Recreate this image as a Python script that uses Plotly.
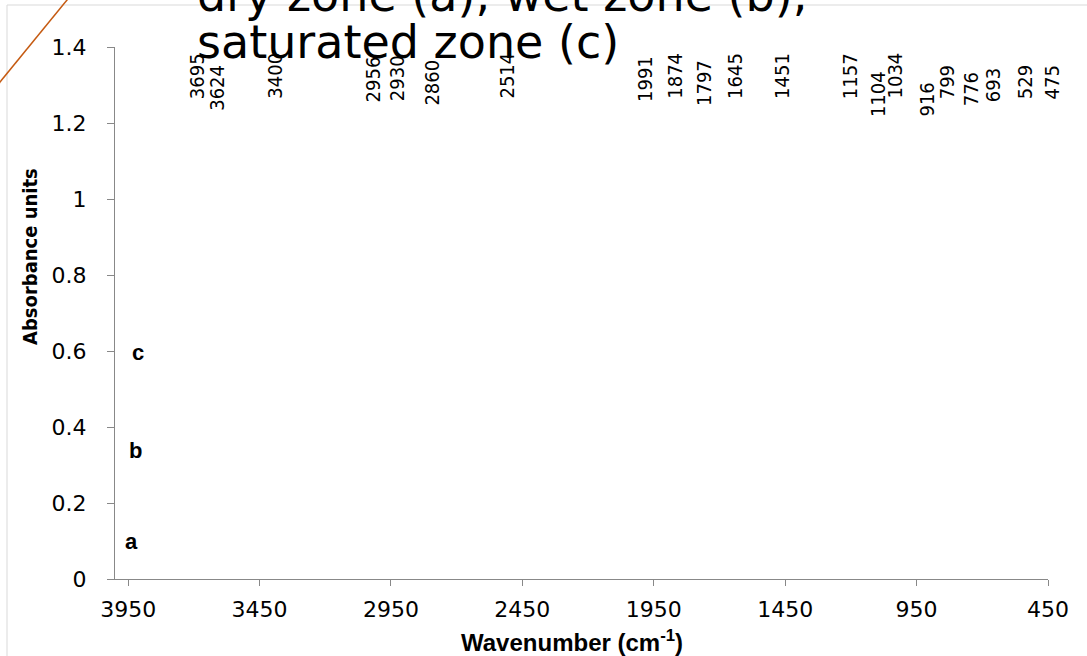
import plotly.graph_objects as go

# ---- data ----
peak_labels = [3695, 3624, 3400, 2956, 2930, 2860, 2514, 1991, 1874, 1797,
               1645, 1451, 1157, 1104, 1034, 916, 799, 776, 693, 529, 475]
zone_letters = ["a", "b", "c"]
zone_letter_y = [0.10, 0.339, 0.597]
zone_letter_x = [3939, 3923, 3912]
x_tick_vals = [3950, 3450, 2950, 2450, 1950, 1450, 950, 450]
y_tick_vals = [0, 0.2, 0.4, 0.6, 0.8, 1.0, 1.2, 1.4]
y_tick_text = ["0", "0.2", "0.4", "0.6", "0.8", "1", "1.2", "1.4"]
title_lines = ["dry zone (a), wet zone (b),", "saturated zone (c)"]
x_title = "Wavenumber (cm<sup>-1</sup>)"
y_title = "Absorbance units"

# ---- label placement (style) ----
label_xshift = [2, 3, 2, -16, 1, 17, 1, 2, 1, 10, 1, -3, -12, 2, 0, 1, -9, 9, 9, -2, 11]
label_bottom_px = [101, 113, 101, 104, 103, 108, 101, 104, 101, 108, 101, 101, 101,
                   119, 101, 119, 101, 108, 104, 101, 101]

W, H = 1087, 656
L, R, T, B = 115, 39, 47, 77
narrow = "Liberation Sans Narrow, DejaVu Sans Condensed, Arial Narrow, sans-serif"
axis_col = "#888888"

fig = go.Figure()

ann = []
for lab, xs, bp in zip(peak_labels, label_xshift, label_bottom_px):
    ann.append(dict(x=lab, y=1.4, xref="x", yref="y", text=str(lab), textangle=-90,
                    showarrow=False, xanchor="center", yanchor="bottom",
                    xshift=xs, yshift=T - bp,
                    font=dict(family=narrow, size=20, color="#000000")))

for lt, lx, ly in zip(zone_letters, zone_letter_x, zone_letter_y):
    ann.append(dict(x=lx, y=ly, xref="x", yref="y", text=lt, showarrow=False,
                    xanchor="center", yanchor="middle",
                    font=dict(family="Liberation Sans, Arial, sans-serif", size=22,
                              color="#000000", weight="bold")))

ph = H - T - B
pw = W - L - R
# title lines
for line, base_bottom in zip(title_lines, [24, 71]):
    ann.append(dict(x=(195 - L) / pw, y=(H - B - base_bottom) / ph, xref="paper", yref="paper",
                    text=line, showarrow=False, xanchor="left", yanchor="bottom",
                    font=dict(family="DejaVu Sans", size=46, color="#000000")))

ann.append(dict(x=(30 - L) / pw, y=(H - B - 257) / ph, xref="paper", yref="paper",
                text=y_title, textangle=-90, showarrow=False,
                xanchor="center", yanchor="middle",
                font=dict(family=narrow, size=20, color="#000000", weight="bold")))
ann.append(dict(x=(572 - L) / pw, y=(H - B - 641) / ph, xref="paper", yref="paper",
                text=x_title, showarrow=False, xanchor="center", yanchor="middle",
                font=dict(family="Liberation Sans, Arial, sans-serif", size=24,
                          color="#000000", weight="bold")))

shapes = [
    dict(type="rect", xref="paper", yref="paper",
         x0=(7 - L) / pw, x1=(1200 - L) / pw, y0=(H - B - 800) / ph, y1=(H - B - 5) / ph,
         line=dict(color="#d9d9d9", width=1), fillcolor="rgba(0,0,0,0)", layer="below"),
    dict(type="line", xref="paper", yref="paper",
         x0=(-5 - L) / pw, y0=(H - B - 88.1) / ph, x1=(72 - L) / pw, y1=(H - B + 6.1) / ph,
         line=dict(color="#c55a11", width=1.5)),
]

fig.update_layout(
    width=W, height=H,
    margin=dict(l=L, r=R, t=T, b=B),
    paper_bgcolor="white", plot_bgcolor="white",
    showlegend=False,
    annotations=ann, shapes=shapes,
    xaxis=dict(range=[4000, 450], tickvals=x_tick_vals, ticktext=[str(v) for v in x_tick_vals],
               showgrid=False, zeroline=False, showline=True, linecolor=axis_col, linewidth=1.3,
               ticks="outside", ticklen=6, tickwidth=1.3, tickcolor=axis_col,
               tickfont=dict(family="DejaVu Sans", size=22, color="#000000"),
               ticklabelstandoff=4),
    yaxis=dict(range=[0, 1.4], tickvals=y_tick_vals, ticktext=y_tick_text,
               showgrid=False, zeroline=False, showline=True, linecolor=axis_col, linewidth=1.3,
               ticks="outside", ticklen=7, tickwidth=1.3, tickcolor=axis_col,
               tickfont=dict(family="DejaVu Sans", size=22, color="#000000"),
               ticklabelstandoff=16),
)

fig.write_html("out.html", config={"displayModeBar": False},
               post_script="document.body.style.margin='0px';document.body.style.overflow='hidden';")
